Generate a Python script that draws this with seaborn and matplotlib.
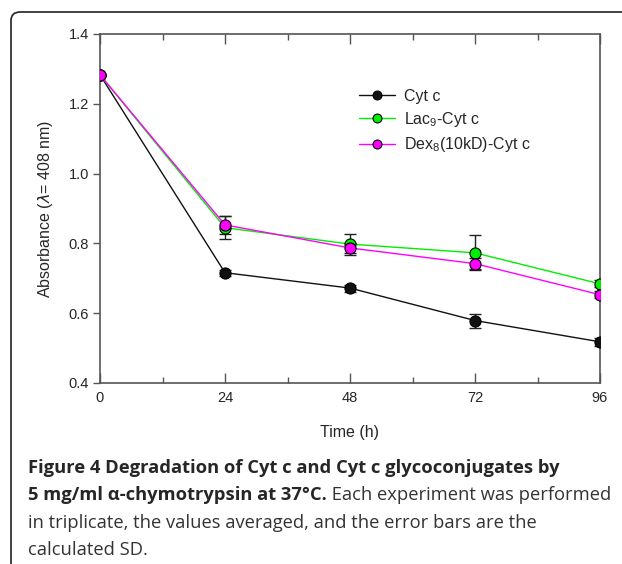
import pandas as pd
import matplotlib
matplotlib.use("Agg")
import matplotlib.pyplot as plt
import seaborn as sns
from matplotlib.patches import FancyBboxPatch
from matplotlib.ticker import MultipleLocator

# Data
time_h = [0, 24, 48, 72, 96]
cyt_c = [1.283, 0.716, 0.672, 0.579, 0.518]
cyt_c_sd = [0.0, 0.008, 0.010, 0.020, 0.012]
lac_cyt_c = [1.283, 0.845, 0.798, 0.773, 0.684]
lac_cyt_c_sd = [0.0, 0.033, 0.030, 0.050, 0.010]
dex_cyt_c = [1.283, 0.853, 0.787, 0.742, 0.653]
dex_cyt_c_sd = [0.0, 0.025, 0.015, 0.015, 0.010]

labels = ["Cyt c", "Lac$_9$-Cyt c", "Dex$_8$(10kD)-Cyt c"]
colors = ["#111111", "#00ee00", "#ff00ff"]

df = pd.concat([
    pd.DataFrame({"time": time_h, "absorbance": v, "sd": s, "sample": lab})
    for v, s, lab in zip([cyt_c, lac_cyt_c, dex_cyt_c],
                         [cyt_c_sd, lac_cyt_c_sd, dex_cyt_c_sd], labels)
])

sns.set_style("white")
plt.rcParams["font.family"] = ["Liberation Sans", "DejaVu Sans"]
plt.rcParams["mathtext.fontset"] = "custom"
plt.rcParams["mathtext.rm"] = "Liberation Sans"

fig = plt.figure(figsize=(6.22, 5.64), dpi=100)
ax = fig.add_axes([100 / 622, 1 - 383 / 564, 500 / 622, 349 / 564])

# error bars (SD)
for lab in labels:
    sub = df[df["sample"] == lab]
    ax.errorbar(sub["time"], sub["absorbance"], yerr=sub["sd"], fmt="none",
                ecolor="#222222", elinewidth=1, capsize=4, capthick=1, zorder=2)

sns.lineplot(data=df, x="time", y="absorbance", hue="sample", palette=colors,
             marker="o", markersize=8, markeredgecolor="black", markeredgewidth=0.8,
             linewidth=1, errorbar=None, ax=ax, zorder=3)

ax.set_xlim(0, 96)
ax.set_ylim(0.4, 1.4)
ax.xaxis.set_major_locator(MultipleLocator(24))
ax.xaxis.set_minor_locator(MultipleLocator(12))
ax.yaxis.set_major_locator(MultipleLocator(0.2))
ax.tick_params(axis="x", which="major", direction="in", length=7, width=1,
               top=True, bottom=True, color="#555555", labelsize=10.5, pad=6)
ax.tick_params(axis="x", which="minor", direction="in", length=4, width=1,
               top=True, bottom=True, color="#555555")
ax.tick_params(axis="y", which="major", direction="out", length=5, width=1,
               left=True, right=False, color="#555555", labelsize=10.5, pad=3)
for sp in ax.spines.values():
    sp.set_color("#555555")
    sp.set_linewidth(1.2)

ax.set_xlabel("Time (h)", fontsize=11.5, labelpad=14)
ax.set_ylabel("Absorbance ($\\lambda$= 408 nm)", fontsize=11.5, labelpad=10)

ax.legend(loc="upper left", bbox_to_anchor=(0.49, 0.885), frameon=False,
          fontsize=11.5, handlelength=2.2, handletextpad=0.6, labelspacing=0.4,
          markerscale=0.8)

# caption frame
frame = FancyBboxPatch((11 / 622, -20 / 564), 700 / 622, (564 - 12 + 20) / 564,
                       boxstyle="round,pad=0,rounding_size=0.015",
                       transform=fig.transFigure, fill=False,
                       edgecolor="#222222", linewidth=1.2)
fig.patches.append(frame)

cap_font = ["Open Sans", "DejaVu Sans"]
cap_size = 13.2
x0 = 28 / 622
fig.text(x0, 1 - 473 / 564, "Figure 4 Degradation of Cyt c and Cyt c glycoconjugates by",
         fontsize=cap_size, fontweight="bold", family=cap_font, va="baseline")
t_bold = fig.text(x0, 1 - 500 / 564, "5 mg/ml \u03b1-chymotrypsin at 37\u00b0C.",
                  fontsize=cap_size, fontweight="bold", family=cap_font, va="baseline")
fig.canvas.draw()
bb = t_bold.get_window_extent(renderer=fig.canvas.get_renderer())
fig.text(bb.x1 / fig.bbox.width, 1 - 500 / 564, " Each experiment was performed",
         fontsize=cap_size, family=cap_font, color="#333333", va="baseline")
fig.text(x0, 1 - 528 / 564, "in triplicate, the values averaged, and the error bars are the",
         fontsize=cap_size, family=cap_font, color="#333333", va="baseline")
fig.text(x0, 1 - 555 / 564, "calculated SD.",
         fontsize=cap_size, family=cap_font, color="#333333", va="baseline")

fig.savefig("out.png", dpi=100)
